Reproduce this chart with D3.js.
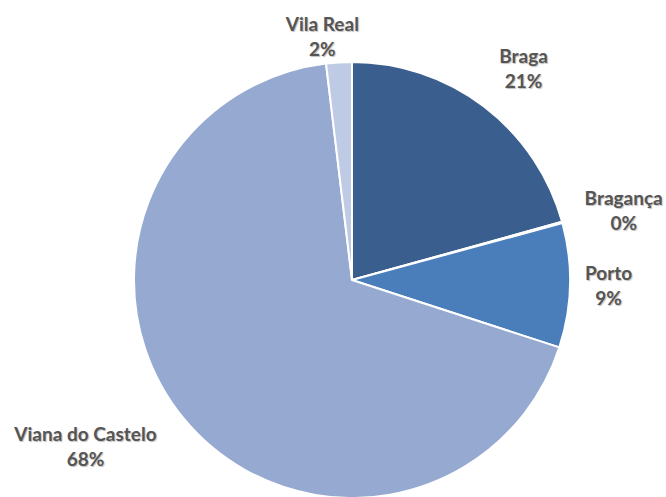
<!DOCTYPE html>
<html>
<head>
<meta charset="utf-8">
<script src="https://cdn.jsdelivr.net/npm/d3@7"></script>
<style>
  body { margin: 0; background: #fff; }
  svg text { font-family: Lato, "Open Sans", sans-serif; font-size: 19px; font-weight: bold; fill: #555; text-shadow: 1px 1px 1px rgba(0,0,0,0.25); }
</style>
</head>
<body>
<svg id="chart"></svg>
<script>
var width = 666
var height = 497

// data, in slice order clockwise from 12 o'clock
var districts = ['Braga', 'Bragança', 'Porto', 'Viana do Castelo', 'Vila Real']
var shares = [20.7, 0.1, 9.2, 68.1, 1.9]
var percentLabels = ['21%', '0%', '9%', '68%', '2%']
var colors = ['#3a5f8e', '#5a7fb0', '#4a7ebb', '#95a9d1', '#bfcbe4']

// small hand nudges so the labels sit where the original put them
var labelNudge = [[20, -13], [16, -3], [7, 0], [-37, 9], [-14, 6]]

var cx = 352, cy = 280, radius = 218

var svg = d3.select('#chart').attr('width', width).attr('height', height)

var slices = districts.map(function(d, i) {
	return {name: d, value: shares[i], label: percentLabels[i], color: colors[i], nudge: labelNudge[i]}
})

var pie = d3.pie().sort(null).value(function(d) {return d.value})
var arc = d3.arc().innerRadius(0).outerRadius(radius)

var g = svg.append('g').attr('transform', 'translate(' + cx + ',' + cy + ')')

g.selectAll('path')
	.data(pie(slices))
	.enter().append('path')
	.attr('d', arc)
	.attr('fill', function(d) {return d.data.color})
	.attr('stroke', '#fff')
	.attr('stroke-width', 2)
	.attr('stroke-linejoin', 'round')

// labels: put the text box just outside the slice, along its middle ray
var gap = 8
var labels = g.selectAll('g.label')
	.data(pie(slices))
	.enter().append('g')
	.attr('class', 'label')

labels.append('text')
	.attr('class', 'name')
	.attr('text-anchor', 'middle')
	.text(function(d) {return d.data.name})
labels.append('text')
	.attr('class', 'pct')
	.attr('text-anchor', 'middle')
	.attr('dy', 25)
	.text(function(d) {return d.data.label})

labels.each(function(d) {
	var el = d3.select(this)
	var w = Math.max(el.select('.name').node().getComputedTextLength(), el.select('.pct').node().getComputedTextLength())
	var h = 46
	var a = (d.startAngle + d.endAngle) / 2
	var s = Math.sin(a), c = -Math.cos(a)
	var px = (radius + gap) * s + s * w / 2 + d.data.nudge[0]
	var py = (radius + gap) * c + c * h / 2 + d.data.nudge[1]
	// the text block is h tall; first baseline sits 17px below its top
	el.attr('transform', 'translate(' + px + ',' + (py - h / 2 + 17) + ')')
})
</script>
</body>
</html>
